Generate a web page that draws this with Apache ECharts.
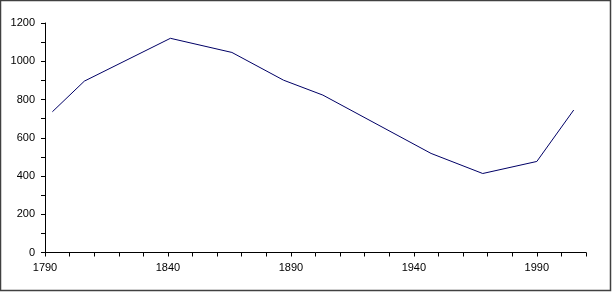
<!DOCTYPE html>
<html>
<head>
<meta charset="utf-8">
<script src="https://cdn.jsdelivr.net/npm/echarts@6/dist/echarts.min.js"></script>
<style>
html,body{margin:0;padding:0;background:#fff;}
#c{width:612px;height:292px;}
</style>
</head>
<body>
<div id="c"></div>
<script>
var years  = [1793, 1806, 1841, 1866, 1887, 1903, 1947, 1968, 1990, 2005];
var values = [736, 896, 1120, 1046, 901, 823, 518, 413, 476, 745];
var xLabels = [1790, 1840, 1890, 1940, 1990];
var yLabels = [0, 200, 400, 600, 800, 1000, 1200];

var chart = echarts.init(document.getElementById('c'), null, {renderer:'canvas'});
var pts = years.map(function(y,i){return [y, values[i]];});
var font = {fontFamily:'Liberation Sans, Arial, sans-serif', fontSize:11, color:'#000'};
chart.setOption({
  animation:false,
  backgroundColor:'#fff',
  graphic:[{type:'rect', shape:{x:0.5,y:0.5,width:610,height:290}, style:{fill:'none', stroke:'#404040', lineWidth:1.5}, silent:true}],
  grid:{left:45, top:23, right:26, bottom:39.5},
  xAxis:{type:'value', min:1790, max:2010, interval:10,
    axisLine:{lineStyle:{color:'#000', width:1}},
    axisTick:{show:true, length:4, inside:false, lineStyle:{color:'#000'}},
    splitLine:{show:false},
    axisLabel:Object.assign({margin:10, showMaxLabel:true, formatter:function(v){return xLabels.indexOf(v)>=0 ? String(v) : '';}}, font)
  },
  yAxis:{type:'value', min:0, max:1200, interval:100,
    axisLine:{show:true, lineStyle:{color:'#000', width:1}},
    axisTick:{show:true, length:4, inside:false, lineStyle:{color:'#000'}},
    splitLine:{show:false},
    axisLabel:Object.assign({margin:10, formatter:function(v){return yLabels.indexOf(v)>=0 ? String(v) : '';}}, font)
  },
  series:[{type:'line', data:pts, showSymbol:false, symbol:'none',
    lineStyle:{color:'#000066', width:1}}]
});
</script>
</body>
</html>
